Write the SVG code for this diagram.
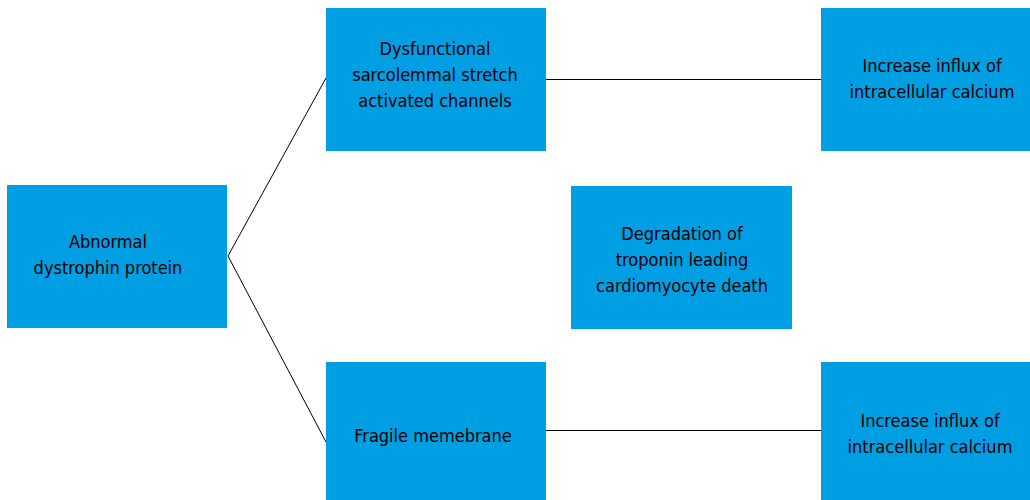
<svg xmlns="http://www.w3.org/2000/svg" width="1030" height="500" viewBox="0 0 1030 500">
<style>
.box{fill:#009EE3;}
.t{font-family:"DejaVu Sans Condensed","DejaVu Sans",sans-serif;font-stretch:condensed;font-size:18px;fill:#000;text-anchor:middle;}
.c{stroke:#000;stroke-width:1;fill:none;}
</style>
<rect width="1030" height="500" fill="#fff"/>
<g id="connectors">
<path class="c" d="M228,256 L326,78"/>
<path class="c" d="M228,256 L326,442"/>
<path class="c" d="M546,79.500 L821,79.500"/>
<path class="c" d="M546,430.500 L821,430.500"/>
</g>
<g id="node-abnormal">
<rect class="box" x="7" y="185" width="220" height="143"/>
<text class="t" x="108" y="248">Abnormal</text>
<text class="t" x="108" y="274">dystrophin protein</text>
</g>
<g id="node-dysfunctional">
<rect class="box" x="326" y="8" width="220" height="143"/>
<text class="t" x="435" y="55">Dysfunctional</text>
<text class="t" x="435" y="81">sarcolemmal stretch</text>
<text class="t" x="435" y="107">activated channels</text>
</g>
<g id="node-influx-top">
<rect class="box" x="821" y="8" width="220" height="143"/>
<text class="t" x="932" y="72">Increase influx of</text>
<text class="t" x="932" y="98">intracellular calcium</text>
</g>
<g id="node-degradation">
<rect class="box" x="571" y="186" width="221" height="143"/>
<text class="t" x="682" y="240">Degradation of</text>
<text class="t" x="682" y="266">troponin leading</text>
<text class="t" x="682" y="292">cardiomyocyte death</text>
</g>
<g id="node-fragile">
<rect class="box" x="326" y="362" width="220" height="143"/>
<text class="t" x="433" y="442">Fragile memebrane</text>
</g>
<g id="node-influx-bottom">
<rect class="box" x="821" y="362" width="220" height="143"/>
<text class="t" x="930" y="427">Increase influx of</text>
<text class="t" x="930" y="453">intracellular calcium</text>
</g>
</svg>
